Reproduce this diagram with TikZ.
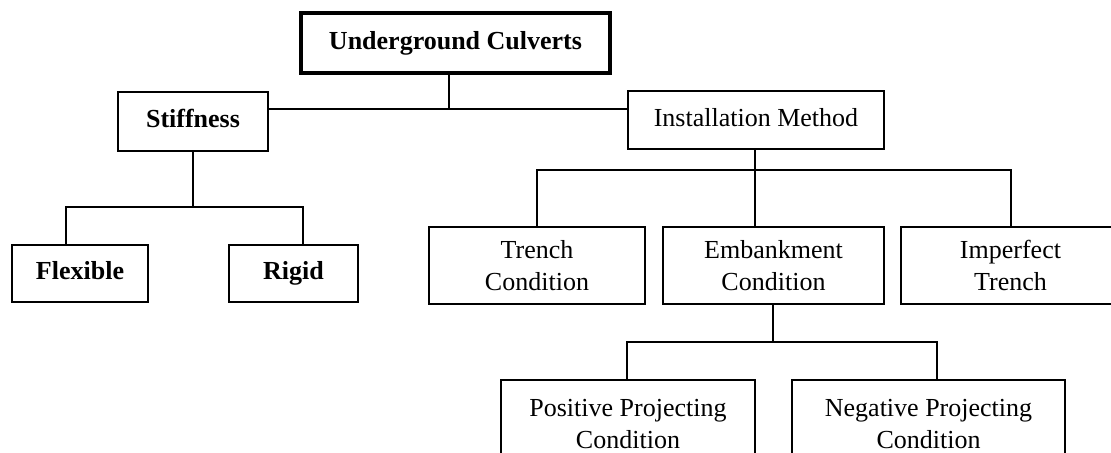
\documentclass[tikz,border=0pt]{standalone}
\usepackage{fontspec}
\setmainfont{Liberation Serif}

\tikzset{
  box/.style={draw, line width=2.2pt, align=center, inner sep=0pt,
    font=\fontsize{19.5}{24}\selectfont},
  boldbox/.style={box, text height=13.5pt, text depth=4pt,
    font=\fontsize{19.5}{24}\selectfont\bfseries},
  link/.style={line width=2.2pt},
}

\begin{document}
\begin{tikzpicture}[x=0.75pt,y=0.75pt,yscale=-1,xscale=1]
\useasboundingbox (0,0) rectangle (1111,453);
\clip (0,0) rectangle (1111,453);

%Shape: Rectangle [id:root]
\node [boldbox, line width=3pt, minimum width=231.75pt, minimum height=45pt] (culv) at (455.5,43) {Underground Culverts};
%Shape: Rectangle [id:stiff]
\node [boldbox, minimum width=112.5pt, minimum height=44.25pt] (stiff) at (193,121.5) {Stiffness};
%Shape: Rectangle [id:inst]
\node [box, text height=13.5pt, text depth=4pt, minimum width=192pt, minimum height=43.5pt] (inst) at (756,120) {Installation Method};
%Shape: Rectangle [id:flex]
\node [boldbox, minimum width=102pt, minimum height=42.75pt] (flex) at (80,273.5) {Flexible};
%Shape: Rectangle [id:rigid]
\node [boldbox, minimum width=96.75pt, minimum height=42.75pt] (rigid) at (293.5,273.5) {Rigid};
%Shape: Rectangle [id:trench]
\node [box, minimum width=162pt, minimum height=57.75pt] (trench) at (537,265.5) {Trench\\Condition};
%Shape: Rectangle [id:emb]
\node [box, minimum width=165.75pt, minimum height=57.75pt] (emb) at (773.5,265.5) {Embankment\\Condition};
%Shape: Rectangle [id:imperf]
\node [box, minimum width=164.25pt, minimum height=57.75pt] (imperf) at (1010.5,265.5) {Imperfect\\Trench};
%Shape: Rectangle [id:pos]
\node [box, minimum width=190.5pt, minimum height=66pt] (pos) at (628,424) {Positive Projecting\\Condition};
%Shape: Rectangle [id:neg]
\node [box, minimum width=204.75pt, minimum height=66pt] (neg) at (928.5,424) {Negative Projecting\\Condition};

%Junctions
\coordinate (jtop) at (449,109);
\coordinate (jflex) at (66,207);
\coordinate (jrigid) at (303,207);
\coordinate (jtrench) at (537,170);
\coordinate (jemb) at (755,170);
\coordinate (jimperf) at (1011,170);
\coordinate (jpos) at (627,342);
\coordinate (jneg) at (937,342);

%Straight Lines
\draw [link] (culv.south -| jtop) -- (jtop) ;
\draw [link] (stiff.east |- jtop) -- (inst.west |- jtop) ;
%Straight Lines
\draw [link] (stiff.south) -- (stiff.south |- jflex) ;
\draw [link] (flex.north -| jflex) -- (jflex) -- (jrigid) -- (rigid.north -| jrigid) ;
%Straight Lines
\draw [link] (inst.south -| jemb) -- (jemb) ;
\draw [link] (trench.north -| jtrench) -- (jtrench) -- (jimperf) -- (imperf.north -| jimperf) ;
\draw [link] (jemb) -- (emb.north -| jemb) ;
%Straight Lines
\draw [link] (emb.south -| 773,0) -- (jpos -| 773,0) ;
\draw [link] (pos.north -| jpos) -- (jpos) -- (jneg) -- (neg.north -| jneg) ;

\end{tikzpicture}
\end{document}
